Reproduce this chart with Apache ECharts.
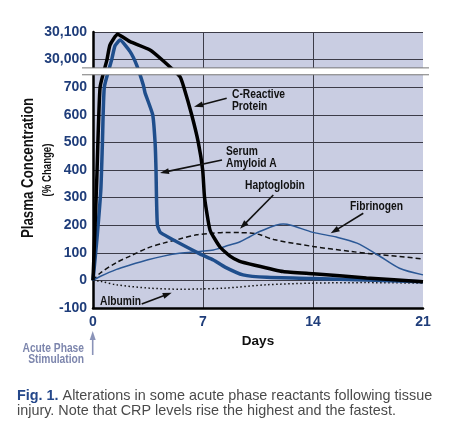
<!DOCTYPE html>
<html><head><meta charset="utf-8">
<script src="https://cdn.jsdelivr.net/npm/echarts@6/dist/echarts.min.js"></script>
<style>html,body{margin:0;padding:0;background:#fff}#c{width:450px;height:431px}</style>
</head><body><div id="c"></div>
<script>
// ---- data (days, % change) ----
const crpDays = [0,0.12,0.24,0.45,0.89,1.08,1.56,2.36,3.63,4.48,5.54,5.78,6.28,6.7,6.98,7.1,7.45,8.08,8.72,9.3,10.3,12.1,14,17.4,21];
const crpVals = [0,180,365,700,30000,30053,30092,30065,30035,29995,738,700,600,500,400,300,182,121,88,70,55,32,24,9,-5];

const saaDays = [0,0.25,0.5,0.6,0.72,1.19,1.4,1.72,2.36,2.78,3.2,3.31,3.8,3.95,4.01,4.04,4.1,4.3,6.8,7.66,8.4,9.55,11.07,14,21];
const saaVals = [0,150,330,500,700,30000,30050,30071,30029,29980,708,680,600,500,400,300,200,173,96,74,48,20,11,7,-5];

const haptoDays = [0,0.45,1.5,2.36,3.5,4.48,5.5,6.6,7.5,8.4,9.36,10,10.6,11.5,14,16.4,17.8,21];
const haptoVals = [0,26,65,88,118,135,150,165,170,174,173,172,166,148,123,105,96,78];

const fibDays = [0,0.45,1.5,2.36,3.5,4.48,5.5,6.8,7.66,8.4,9.36,10,10.6,12.1,12.6,14,15.5,16.8,18.1,19.5,21];
const fibVals = [0,14,40,56,75,88,98,105,110,123,140,159,177,204,200,174,157,135,93,44,20];

const albDays = [0,0.45,1.5,3.6,5.7,6.8,8.4,11,14,17.4,21];
const albVals = [0,-3,-16,-28,-32,-31,-28,-16,-10,-8,-10];

const xTicks = [0,7,14,21];
const yTickLabels = {'-100':'-100','0':'0','100':'100','200':'200','300':'300','400':'400','500':'500','600':'600','700':'700','800':'30,000','900':'30,100'};

// broken axis: values >= 29000 are shown above the break (30,000 sits where 800 would be)
const BREAK_SHIFT = 29200;
function tf(v){ return v >= 29000 ? v - BREAK_SHIFT : v; }
function pts(d, v){ return d.map((x,i)=>[x, tf(v[i])]); }

const NAVY = '#1f3d7a';
const FONT = '"Liberation Sans",Arial,sans-serif';
const SQ = 0.79; // horizontal squeeze to mimic the condensed face

const chart = echarts.init(document.getElementById('c'), null, {renderer:'canvas'});

function arrow(x1,y1,x2,y2,color,lw,hl,hw){
  const dx=x2-x1, dy=y2-y1, L=Math.sqrt(dx*dx+dy*dy), ux=dx/L, uy=dy/L;
  const bx=x2-ux*hl, by=y2-uy*hl, px=-uy*hw/2, py=ux*hw/2;
  return [
    {type:'line', z:100, shape:{x1:x1,y1:y1,x2:bx+ux*1,y2:by+uy*1}, style:{stroke:color,lineWidth:lw}},
    {type:'polygon', z:100, shape:{points:[[x2,y2],[bx+px,by+py],[bx-px,by-py]]}, style:{fill:color}}
  ];
}
function label(x,y,text){
  return {type:'text', z:100, x:x, y:y, scaleX:SQ, style:{text:text, fill:'#111', font:'bold 13px '+FONT, textVerticalAlign:'middle'}};
}

const option = {
  animation:false,
  backgroundColor:'#fff',
  grid:{left:93,right:27,top:32,bottom:123,show:true,backgroundColor:'#c9cde2',borderWidth:0},
  xAxis:{
    type:'value', min:0, max:21, interval:7,
    axisLine:{onZero:false, lineStyle:{color:'#000',width:2.5}},
    axisTick:{show:false},
    splitLine:{show:true, lineStyle:{color:['transparent','#3c3c48','#3c3c48','transparent'],width:1}},
    axisLabel:{color:NAVY, fontFamily:FONT, fontWeight:'bold', fontSize:14, margin:7,
      formatter:v=> xTicks.indexOf(v)>=0 ? String(v) : ''},
    name:'Days', nameLocation:'middle', nameGap:26,
    nameTextStyle:{color:'#111', fontFamily:FONT, fontWeight:'bold', fontSize:13.5}
  },
  yAxis:{
    type:'value', min:-100, max:900, interval:100,
    axisLine:{show:true, lineStyle:{color:'#000',width:2.5}},
    axisTick:{show:false},
    splitLine:{show:true, lineStyle:{color:'#3c3c48',width:1}},
    axisLabel:{color:NAVY, fontFamily:FONT, fontWeight:'bold', fontSize:14, margin:6,
      formatter:v=> yTickLabels[String(v)] || ''}
  },
  series:[
    {name:'Albumin', type:'line', data:pts(albDays,albVals), showSymbol:false, smooth:0.3,
      lineStyle:{color:'#111',width:1.5,type:[1.5,2.5]}},
    {name:'Haptoglobin', type:'line', data:pts(haptoDays,haptoVals), showSymbol:false, smooth:0.3,
      lineStyle:{color:'#111',width:1.5,type:[5,3]}},
    {name:'Fibrinogen', type:'line', data:pts(fibDays,fibVals), showSymbol:false, smooth:0.3,
      lineStyle:{color:'#2b5896',width:1.5}},
    {name:'Serum Amyloid A', type:'line', data:pts(saaDays,saaVals), showSymbol:false, smooth:0.15,
      lineStyle:{color:'#1f4e8c',width:3.5}},
    {name:'C-Reactive Protein', type:'line', data:pts(crpDays,crpVals), showSymbol:false, smooth:0.15,
      lineStyle:{color:'#000',width:3.5}}
  ]
};
chart.setOption(option);

// break band, positioned through the axis scale
const yTop = chart.convertToPixel({yAxisIndex:0}, 770);
const yBot = chart.convertToPixel({yAxisIndex:0}, 745);
const gfx = [
  {type:'rect', z:50, shape:{x:82,y:yTop,width:347,height:yBot-yTop}, style:{fill:'#fff'}},
  {type:'line', z:51, shape:{x1:82,y1:yTop,x2:429,y2:yTop}, style:{stroke:'#777',lineWidth:1}},
  {type:'line', z:51, shape:{x1:82,y1:yBot,x2:429,y2:yBot}, style:{stroke:'#777',lineWidth:1}},
  // axis title
  {type:'text', z:100, x:29, y:168, rotation:Math.PI/2, scaleX:0.83,
    style:{text:'Plasma Concentration', fill:'#111', font:'bold 16px '+FONT, textAlign:'center', textVerticalAlign:'middle'}},
  {type:'text', z:100, x:47.5, y:170, rotation:Math.PI/2, scaleX:0.8,
    style:{text:'(% Change)', fill:'#111', font:'bold 12px '+FONT, textAlign:'center', textVerticalAlign:'middle'}},
  // annotations
  label(232,94,'C-Reactive'), label(232,106.5,'Protein'),
  label(226,151,'Serum'), label(226,163,'Amyloid A'),
  label(245,185,'Haptoglobin'),
  label(350,206.7,'Fibrinogen'),
  label(100,301.3,'Albumin'),
  // acute phase
  {type:'text', z:100, x:84, y:349, scaleX:0.82, style:{text:'Acute Phase', fill:'#7d86ad', font:'bold 12.5px '+FONT, textAlign:'right', textVerticalAlign:'middle'}},
  {type:'text', z:100, x:84, y:359.5, scaleX:0.82, style:{text:'Stimulation', fill:'#7d86ad', font:'bold 12.5px '+FONT, textAlign:'right', textVerticalAlign:'middle'}},
  // caption
  {type:'text', z:100, x:17, y:389,
    style:{text:'{b|Fig. 1.} Alterations in some acute phase reactants following tissue\ninjury. Note that CRP levels rise the highest and the fastest.',
      fill:'#4a4a4a', font:'14.4px '+FONT, lineHeight:15, textVerticalAlign:'top',
      rich:{b:{fill:'#24478a', color:'#24478a', fontWeight:'bold', fontSize:14.4, fontFamily:FONT, lineHeight:15}}}}
];
gfx.push(...arrow(226.7,98.3,194,106.7,'#111',1.6,9,6));
gfx.push(...arrow(222,160,160,173,'#111',1.6,9,6));
gfx.push(...arrow(273.3,195,240,228.8,'#111',1.6,9,6));
gfx.push(...arrow(363.3,213.3,330.7,233.3,'#111',1.6,9,6));
gfx.push(...arrow(141.7,304,171.7,292.7,'#111',1.6,9,6));
gfx.push(...arrow(92.7,355,92.7,331,'#8a93b8',1.6,9,6));
chart.setOption({graphic:{elements:gfx}});
</script>
</body></html>
